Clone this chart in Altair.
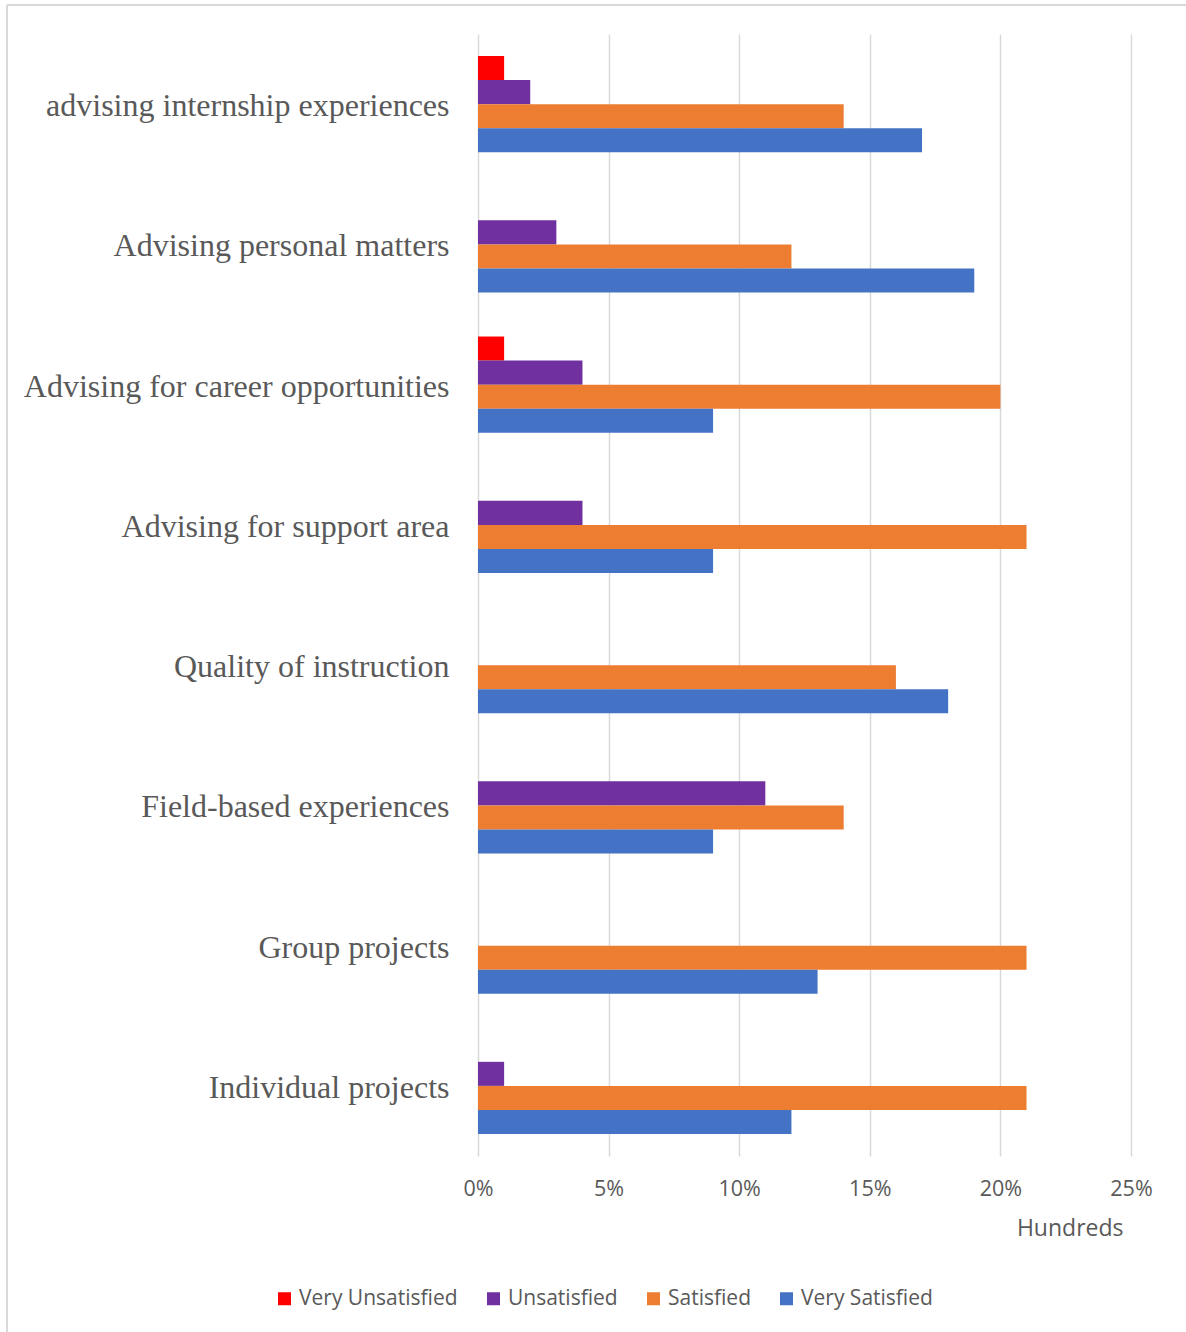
import altair as alt
import pandas as pd

categories = [
    "advising internship experiences",
    "Advising personal matters",
    "Advising for career opportunities",
    "Advising for support area",
    "Quality of instruction",
    "Field-based experiences",
    "Group projects",
    "Individual projects",
]
series = ["Very Unsatisfied", "Unsatisfied", "Satisfied", "Very Satisfied"]
colors = ["#FF0000", "#7030A0", "#ED7D31", "#4472C4"]

very_unsatisfied = [1, 0, 1, 0, 0, 0, 0, 0]
unsatisfied = [2, 3, 4, 4, 0, 11, 0, 1]
satisfied = [14, 12, 20, 21, 16, 14, 21, 21]
very_satisfied = [17, 19, 9, 9, 18, 9, 13, 12]

x_ticks = [0, 5, 10, 15, 20, 25]

rows = []
for name, vals in zip(series, [very_unsatisfied, unsatisfied, satisfied, very_satisfied]):
    for c, v in zip(categories, vals):
        rows.append({"category": c, "series": name, "value": v})
df = pd.DataFrame(rows)

GRAY_TEXT = "#595959"
SANS = "Open Sans, sans-serif"

bars = alt.Chart(df).mark_bar().encode(
    y=alt.Y(
        "category:N",
        sort=categories,
        scale=alt.Scale(paddingInner=0.314, paddingOuter=0.157),
        axis=alt.Axis(
            title=None,
            domain=False,
            ticks=False,
            grid=False,
            labelFont="Liberation Serif",
            labelFontSize=32,
            labelColor=GRAY_TEXT,
            labelPadding=29,
            labelOffset=2,
            labelLimit=600,
        ),
    ),
    yOffset=alt.YOffset("series:N", sort=series, scale=alt.Scale(domain=series)),
    x=alt.X(
        "value:Q",
        scale=alt.Scale(domain=[0, 25], nice=False, zero=True),
        axis=alt.Axis(
            values=x_ticks,
            labelExpr="datum.value + '%'",
            title="Hundreds",
            titleFont=SANS,
            titleFontSize=23,
            titleFontWeight="normal",
            titleColor=GRAY_TEXT,
            titleX=645,
            titleY=72,
            titleAlign="right",
            titleBaseline="middle",
            domain=False,
            ticks=False,
            tickSize=0,
            grid=True,
            gridColor="#d9d9d9",
            gridWidth=1.5,
            labelFont=SANS,
            labelFontSize=21.5,
            labelColor=GRAY_TEXT,
            labelPadding=22,
            labelBaseline="top",
            labelFlush=False,
        ),
    ),
    color=alt.Color(
        "series:N",
        sort=series,
        scale=alt.Scale(domain=series, range=colors),
        legend=alt.Legend(
            title=None,
            orient="none",
            direction="horizontal",
            legendX=-204,
            legendY=1254,
            symbolType="square",
            symbolSize=169,
            symbolStrokeWidth=0,
            labelFont=SANS,
            labelFontSize=21,
            labelColor=GRAY_TEXT,
            labelOffset=4,
            columnPadding=25,
            labelLimit=400,
        ),
    ),
)

border_data = alt.Data(values=[{"k": 1}])
top_border = alt.Chart(border_data).mark_rule(color="#d9d9d9", strokeWidth=2).encode(
    x=alt.value(-471), x2=alt.value(720), y=alt.value(-29)
)
left_border = alt.Chart(border_data).mark_rule(color="#d9d9d9", strokeWidth=2).encode(
    x=alt.value(-471), y=alt.value(-29), y2=alt.value(1310)
)

chart = alt.layer(top_border, left_border, bars).properties(
    width=653,
    height=1122,
    autosize=alt.AutoSizeParams(type="none"),
    padding={"left": 478, "top": 34, "right": 55, "bottom": 176},
    background="white",
).configure_view(stroke=None)

chart.save("out.html", embed_options={"renderer": "svg", "actions": False})
